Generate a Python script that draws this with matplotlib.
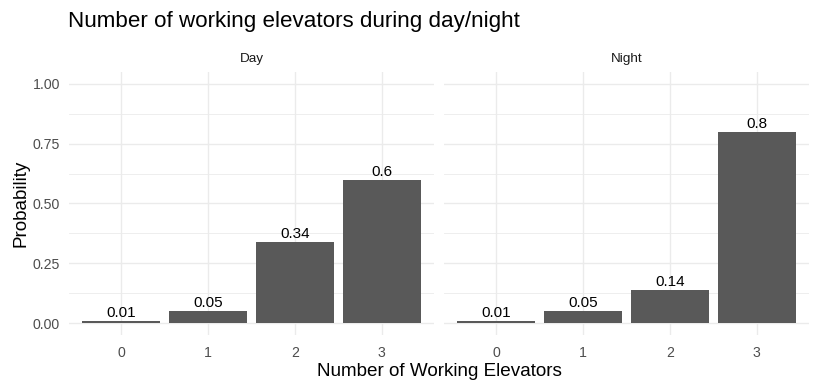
import matplotlib
matplotlib.use("Agg")
import matplotlib.pyplot as plt
from matplotlib.ticker import MultipleLocator

plt.rcParams['font.family'] = ['Liberation Sans', 'DejaVu Sans']

categories = ['0', '1', '2', '3']
panels = ['Day', 'Night']
day_prob = [0.01, 0.05, 0.34, 0.6]
night_prob = [0.01, 0.05, 0.14, 0.8]
values = {'Day': day_prob, 'Night': night_prob}

W, H = 818, 391
fig = plt.figure(figsize=(W / 100, H / 100), dpi=100)

bar_col = '#595959'
grid_col = '#EBEBEB'
tick_col = '#4D4D4D'

lefts = [69, 444]
pw = 365
top, bottom = 72, 335

for i, name in enumerate(panels):
    ax = fig.add_axes([lefts[i] / W, 1 - bottom / H, pw / W, (bottom - top) / H])
    x = range(len(categories))
    vals = values[name]
    ax.bar(x, vals, width=0.9, color=bar_col, zorder=2)
    for xi, v in zip(x, vals):
        ax.annotate(str(v), (xi, v), xytext=(0, 0.5), textcoords='offset points',
                    ha='center', va='bottom', fontsize=11, color='black')
    ax.set_xlim(-0.6, 3.6)
    ax.set_ylim(-0.05, 1.05)
    ax.set_xticks(list(x))
    ax.set_xticklabels(categories)
    ax.yaxis.set_major_locator(MultipleLocator(0.25))
    ax.yaxis.set_minor_locator(MultipleLocator(0.125))
    ax.grid(True, which='major', color=grid_col, linewidth=1.0, zorder=0)
    ax.grid(True, which='minor', axis='y', color=grid_col, linewidth=0.6, zorder=0)
    for s in ax.spines.values():
        s.set_visible(False)
    ax.tick_params(which='both', length=0, colors=tick_col, labelsize=10.2)
    ax.tick_params(axis='x', pad=8)
    ax.tick_params(axis='y', pad=6.5)
    if i == 0:
        ax.yaxis.set_major_formatter(plt.FuncFormatter(lambda v, p: f'{v:.2f}'))
        ax.set_ylabel('Probability', fontsize=13.6, color='black', labelpad=2)
    else:
        ax.set_yticklabels([])
    ax.set_title(name, fontsize=9.7, color='#1A1A1A', pad=7.5)

fig.text((69 + 809) / 2 / W, 1 - 371 / H, 'Number of Working Elevators',
         ha='center', va='center', fontsize=13.6, color='black')
fig.text(68 / W, 1 - 21 / H, 'Number of working elevators during day/night',
         ha='left', va='center', fontsize=16.1, color='black')

fig.savefig('out.png', dpi=100)
